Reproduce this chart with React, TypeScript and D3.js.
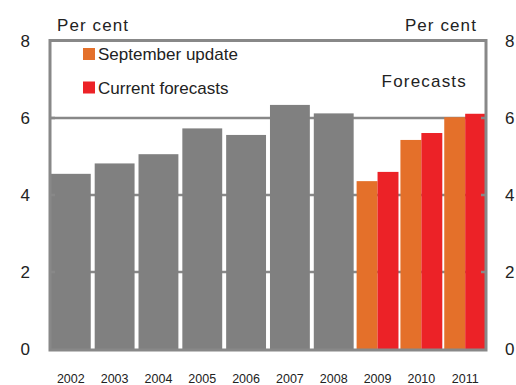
import React from "react";
import * as d3 from "d3";

const years = ["2002", "2003", "2004", "2005", "2006", "2007", "2008", "2009", "2010", "2011"];
const actualValues = [4.55, 4.82, 5.06, 5.73, 5.56, 6.34, 6.12, null, null, null];
const septemberUpdate = [null, null, null, null, null, null, null, 4.36, 5.43, 6.02];
const currentForecasts = [null, null, null, null, null, null, null, 4.6, 5.61, 6.11];
const yTicks = [0, 2, 4, 6, 8];
const legendItems = [
  { label: "September update", color: "#E4702A" },
  { label: "Current forecasts", color: "#EC2227" },
];

const W = 516;
const H = 385;
const left = 50;
const right = 486;
const top = 41;
const bottom = 349;
const FONT = "'Liberation Sans', Arial, sans-serif";
const GREY = "#808080";
const LINE = "#888888";

export default function App() {
  const x = d3.scaleBand<string>().domain(years).range([left, right]).paddingInner(0.09).paddingOuter(0.02);
  const y = d3.scaleLinear().domain([0, 8]).range([bottom, top]);
  const bw = x.bandwidth();
  const sub = d3.scaleBand<string>().domain(["sep", "cur"]).range([-1, bw + 1]).padding(0);

  return (
    <svg width={W} height={H} style={{ position: "absolute", left: 0, top: 0, background: "#fff" }}>
      {/* gridlines */}
      {yTicks.filter((t) => t > 0 && t < 8).map((t) => (
        <line key={"g" + t} x1={left} x2={right} y1={y(t)} y2={y(t)} stroke={LINE} strokeWidth={2.5} />
      ))}
      {/* actual bars */}
      {years.map((yr, i) =>
        actualValues[i] != null ? (
          <rect key={"a" + yr} x={x(yr)} y={y(actualValues[i] as number)} width={bw} height={y(0) - y(actualValues[i] as number)} fill={GREY} />
        ) : null
      )}
      {years.map((yr, i) =>
        septemberUpdate[i] != null ? (
          <rect key={"s" + yr} x={(x(yr) as number) + (sub("sep") as number)} y={y(septemberUpdate[i] as number)} width={sub.bandwidth()} height={y(0) - y(septemberUpdate[i] as number)} fill={legendItems[0].color} />
        ) : null
      )}
      {years.map((yr, i) =>
        currentForecasts[i] != null ? (
          <rect key={"c" + yr} x={(x(yr) as number) + (sub("cur") as number)} y={y(currentForecasts[i] as number)} width={sub.bandwidth()} height={y(0) - y(currentForecasts[i] as number)} fill={legendItems[1].color} />
        ) : null
      )}
      {/* frame */}
      <rect x={left} y={top - 0.5} width={right - left} height={bottom - top + 1.5} fill="none" stroke={LINE} strokeWidth={3} />
      {/* inner ticks */}
      {yTicks.filter((t) => t > 0 && t < 8).map((t) => (
        <g key={"t" + t}>
          <line x1={left} x2={left + 5} y1={y(t)} y2={y(t)} stroke={LINE} strokeWidth={2.5} />
          <line x1={right - 5} x2={right} y1={y(t)} y2={y(t)} stroke={LINE} strokeWidth={2.5} />
        </g>
      ))}
      {/* tick labels */}
      {yTicks.map((t) => (
        <g key={"l" + t} fontFamily={FONT} fontSize={17} fill="#222">
          <text x={30} y={y(t)} textAnchor="end" dominantBaseline="central">{t}</text>
          <text x={505} y={y(t)} textAnchor="start" dominantBaseline="central">{t}</text>
        </g>
      ))}
      {/* x labels */}
      {years.map((yr) => (
        <text key={"x" + yr} x={(x(yr) as number) + bw / 2} y={382.5} textAnchor="middle" fontFamily={FONT} fontSize={12.5} fill="#222">{yr}</text>
      ))}
      {/* axis titles */}
      <text x={57} y={31} fontFamily={FONT} fontSize={17} letterSpacing={1.1} fill="#222">Per cent</text>
      <text x={477} y={31} textAnchor="end" fontFamily={FONT} fontSize={17} letterSpacing={1.1} fill="#222">Per cent</text>
      <text x={467} y={87} textAnchor="end" fontFamily={FONT} fontSize={17} letterSpacing={1.2} fill="#222">Forecasts</text>
      {/* legend */}
      {legendItems.map((it, i) => (
        <g key={"lg" + i} transform={`translate(83, ${48 + i * 33.5})`}>
          <rect x={0} y={0} width={12} height={12} fill={it.color} />
          <text x={15} y={12} fontFamily={FONT} fontSize={17} fill="#222">{it.label}</text>
        </g>
      ))}
    </svg>
  );
}
